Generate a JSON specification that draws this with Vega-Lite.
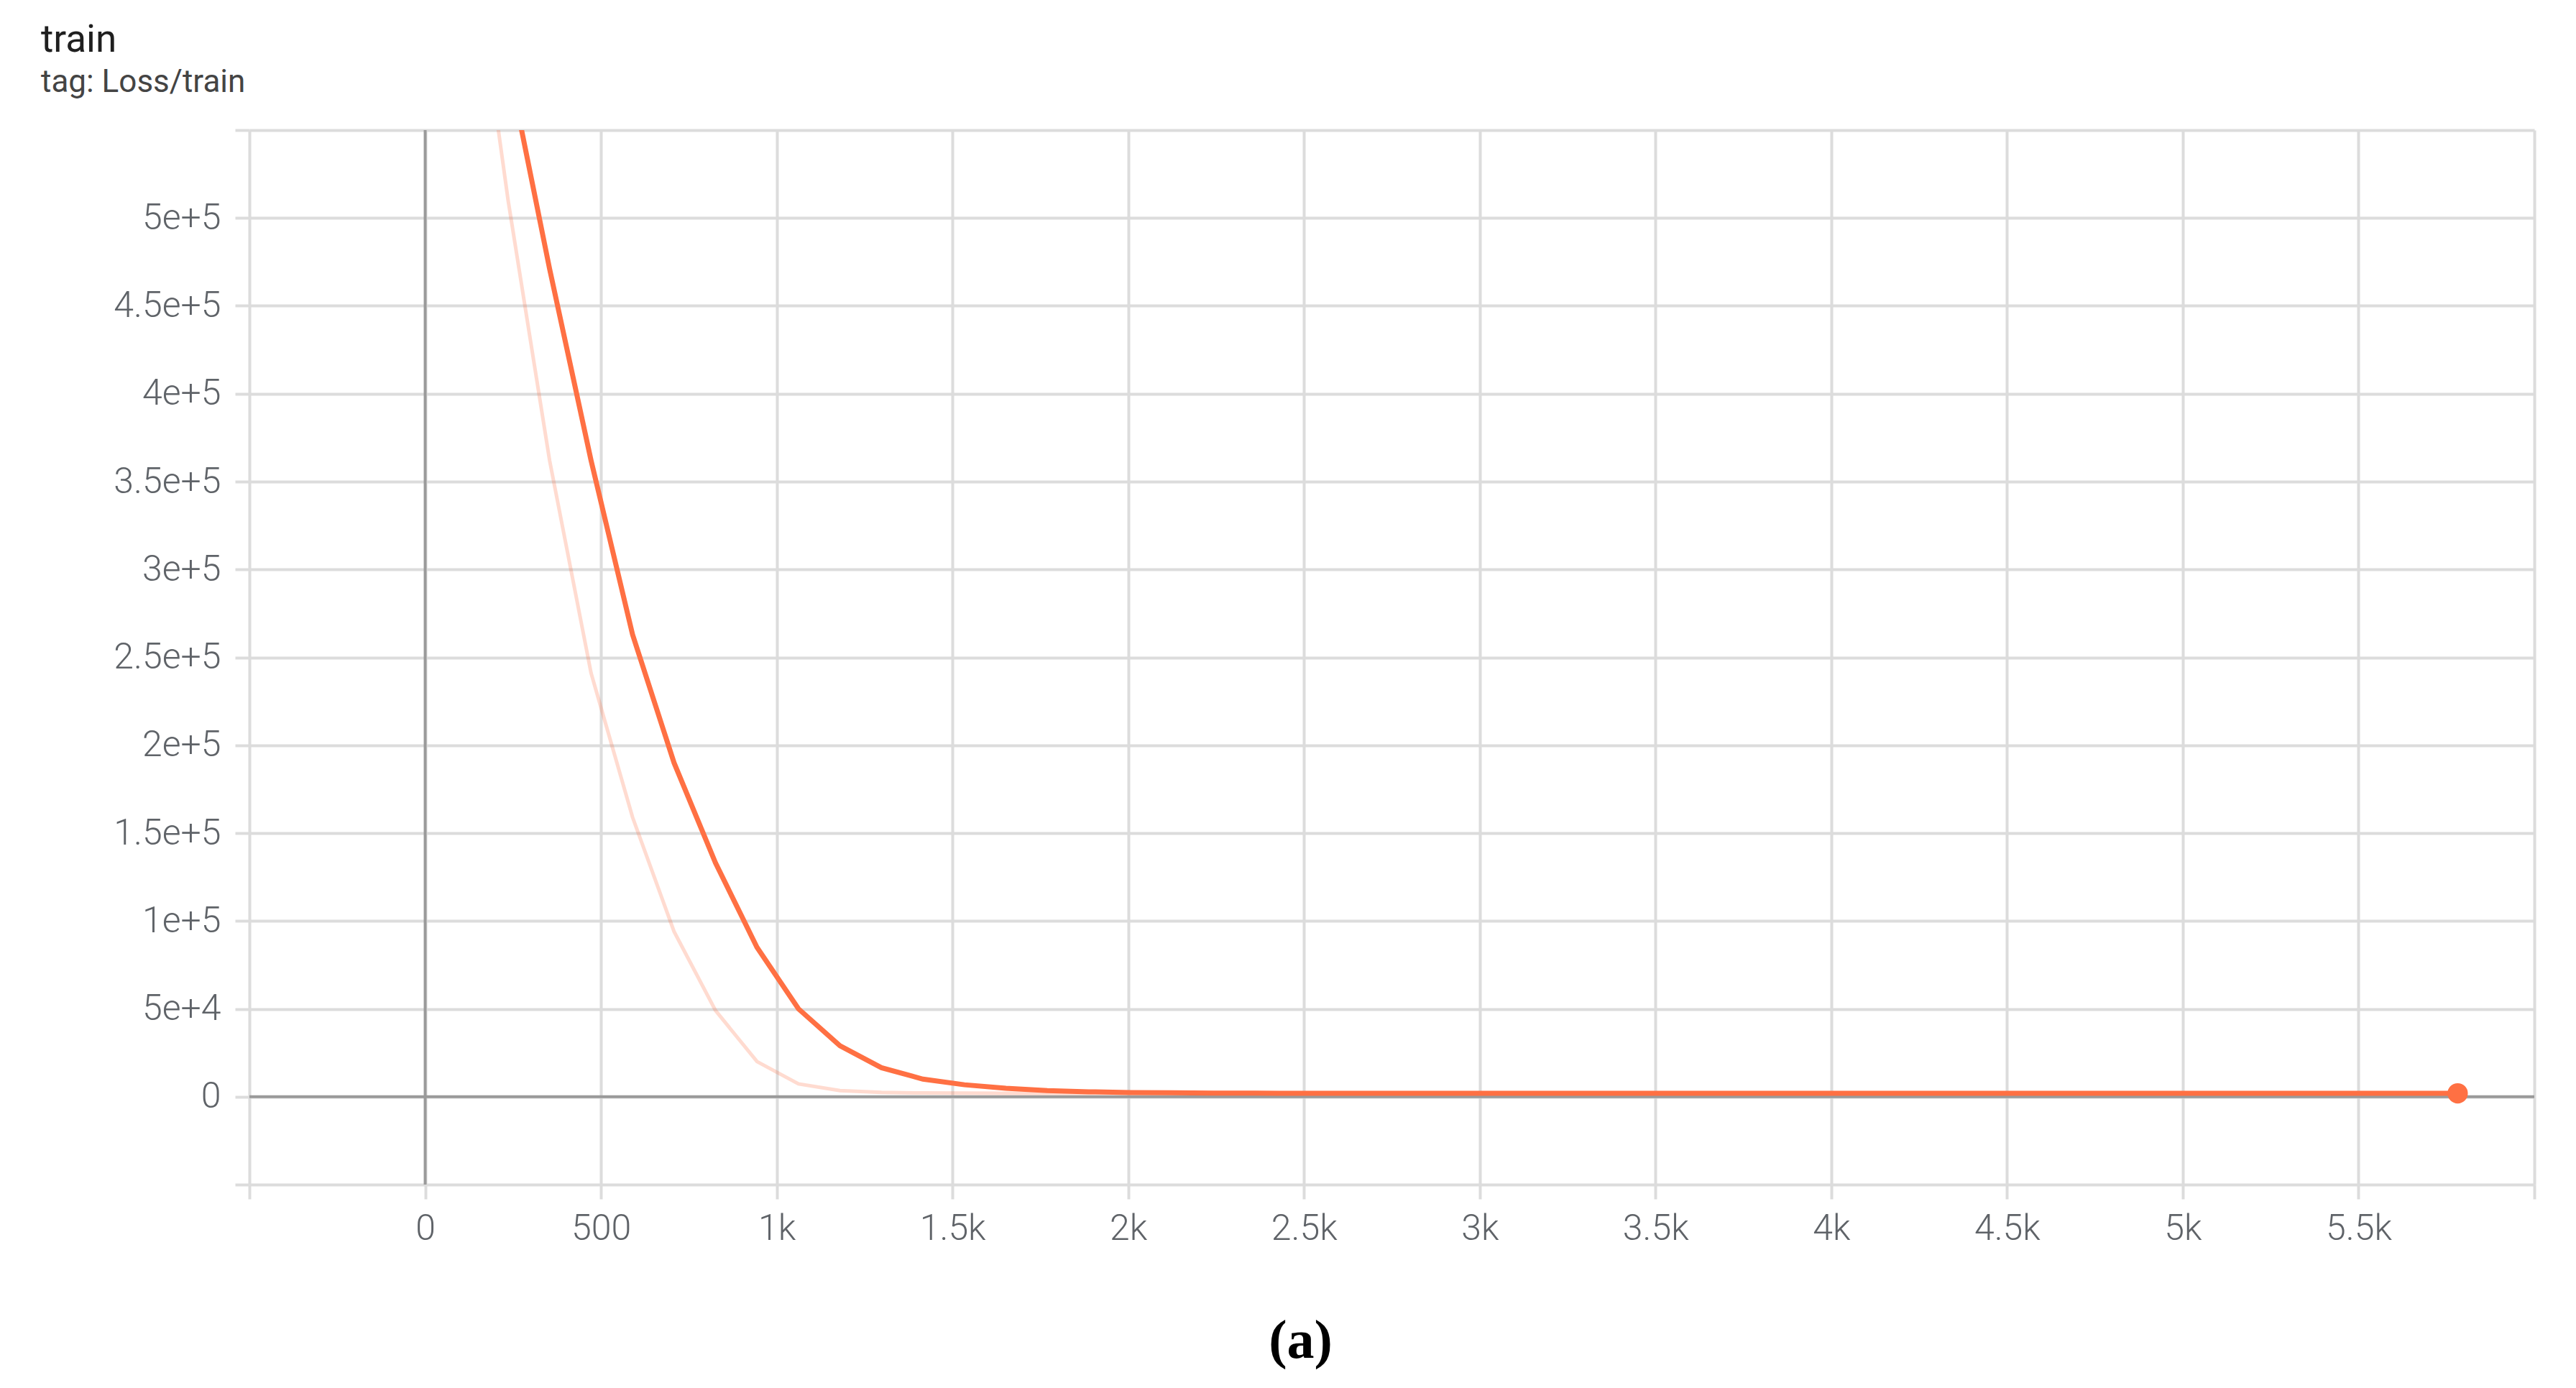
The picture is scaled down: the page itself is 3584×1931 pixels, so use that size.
{
  "$schema": "https://vega.github.io/schema/vega-lite/v6.json",
  "autosize": {"type": "none"},
  "padding": {"left": 347, "top": 181, "right": 58, "bottom": 283},
  "width": 3179,
  "height": 1467,
  "background": "white",
  "title": {
    "text": "train",
    "subtitle": "tag: Loss/train",
    "anchor": "start",
    "frame": "group",
    "dx": -290,
    "offset": 19,
    "baseline": "top",
    "font": "Roboto",
    "fontSize": 53,
    "fontWeight": "normal",
    "color": "#1f1f1f",
    "subtitleFont": "Roboto",
    "subtitleFontSize": 44,
    "subtitleColor": "#444444",
    "subtitlePadding": 10
  },
  "datasets": {
    "raw": [
      {"step": 0, "loss": 900000},
      {"step": 118, "loss": 680000},
      {"step": 236, "loss": 510000},
      {"step": 354, "loss": 362000},
      {"step": 472, "loss": 241000},
      {"step": 590, "loss": 159000},
      {"step": 708, "loss": 94000},
      {"step": 826, "loss": 49000},
      {"step": 944, "loss": 20000},
      {"step": 1062, "loss": 7300},
      {"step": 1180, "loss": 3500},
      {"step": 1298, "loss": 2500},
      {"step": 1416, "loss": 2100},
      {"step": 1534, "loss": 2000},
      {"step": 1652, "loss": 1950},
      {"step": 1770, "loss": 1950},
      {"step": 1888, "loss": 1930},
      {"step": 2006, "loss": 1920},
      {"step": 2124, "loss": 1920},
      {"step": 2242, "loss": 1910},
      {"step": 2360, "loss": 1910},
      {"step": 2478, "loss": 1900},
      {"step": 2596, "loss": 1900},
      {"step": 2714, "loss": 1900},
      {"step": 2832, "loss": 1900},
      {"step": 2950, "loss": 1900},
      {"step": 3068, "loss": 1900},
      {"step": 3186, "loss": 1900},
      {"step": 3304, "loss": 1900},
      {"step": 3422, "loss": 1900},
      {"step": 3540, "loss": 1900},
      {"step": 3658, "loss": 1900},
      {"step": 3776, "loss": 1900},
      {"step": 3894, "loss": 1900},
      {"step": 4012, "loss": 1900},
      {"step": 4130, "loss": 1900},
      {"step": 4248, "loss": 1900},
      {"step": 4366, "loss": 1900},
      {"step": 4484, "loss": 1900},
      {"step": 4602, "loss": 1900},
      {"step": 4720, "loss": 1900},
      {"step": 4838, "loss": 1900},
      {"step": 4956, "loss": 1900},
      {"step": 5074, "loss": 1900},
      {"step": 5192, "loss": 1900},
      {"step": 5310, "loss": 1900},
      {"step": 5428, "loss": 1900},
      {"step": 5546, "loss": 1900},
      {"step": 5664, "loss": 1900},
      {"step": 5782, "loss": 1900}
    ],
    "smoothed": [
      {"step": 0, "loss": 900000},
      {"step": 118, "loss": 720000},
      {"step": 236, "loss": 588000},
      {"step": 354, "loss": 471000},
      {"step": 472, "loss": 362000},
      {"step": 590, "loss": 263000},
      {"step": 708, "loss": 190000},
      {"step": 826, "loss": 133000},
      {"step": 944, "loss": 85000},
      {"step": 1062, "loss": 50000},
      {"step": 1180, "loss": 29000},
      {"step": 1298, "loss": 16500},
      {"step": 1416, "loss": 10000},
      {"step": 1534, "loss": 6800},
      {"step": 1652, "loss": 4800},
      {"step": 1770, "loss": 3500},
      {"step": 1888, "loss": 2800},
      {"step": 2006, "loss": 2400},
      {"step": 2124, "loss": 2200},
      {"step": 2242, "loss": 2050},
      {"step": 2360, "loss": 2000},
      {"step": 2478, "loss": 1980},
      {"step": 2596, "loss": 1960},
      {"step": 2714, "loss": 1950},
      {"step": 2832, "loss": 1950},
      {"step": 2950, "loss": 1940},
      {"step": 3068, "loss": 1940},
      {"step": 3186, "loss": 1930},
      {"step": 3304, "loss": 1930},
      {"step": 3422, "loss": 1930},
      {"step": 3540, "loss": 1920},
      {"step": 3658, "loss": 1920},
      {"step": 3776, "loss": 1920},
      {"step": 3894, "loss": 1920},
      {"step": 4012, "loss": 1910},
      {"step": 4130, "loss": 1910},
      {"step": 4248, "loss": 1910},
      {"step": 4366, "loss": 1910},
      {"step": 4484, "loss": 1910},
      {"step": 4602, "loss": 1900},
      {"step": 4720, "loss": 1900},
      {"step": 4838, "loss": 1900},
      {"step": 4956, "loss": 1900},
      {"step": 5074, "loss": 1900},
      {"step": 5192, "loss": 1900},
      {"step": 5310, "loss": 1900},
      {"step": 5428, "loss": 1900},
      {"step": 5546, "loss": 1900},
      {"step": 5664, "loss": 1900},
      {"step": 5782, "loss": 1900}
    ],
    "last": [
      {"step": 5782, "loss": 1900}
    ]
  },
  "encoding": {
    "x": {
      "field": "step",
      "type": "quantitative",
      "scale": {"domain": [-500, 6000], "nice": false, "zero": false},
      "axis": {
        "values": [-500, 0, 500, 1000, 1500, 2000, 2500, 3000, 3500, 4000, 4500, 5000, 5500, 6000],
        "labelExpr": "datum.value < 0 || datum.value > 5500 ? '' : format(datum.value, '~s')",
        "labelPadding": 16,
        "title": "(a)",
        "titleX": 1462,
        "titleY": 240,
        "titleAlign": "center",
        "titleBaseline": "alphabetic",
        "titleFont": "Liberation Serif",
        "titleFontWeight": "bold",
        "titleFontSize": 76,
        "titleColor": "#000000"
      }
    },
    "y": {
      "field": "loss",
      "type": "quantitative",
      "scale": {"domain": [-50000, 550000], "nice": false, "zero": false},
      "axis": {
        "values": [-50000, 0, 50000, 100000, 150000, 200000, 250000, 300000, 350000, 400000, 450000, 500000, 550000],
        "labelExpr": "datum.value == 0 ? '0' : (datum.value < 0 || datum.value > 500000 ? '' : format(datum.value, '.2~e'))",
        "labelPadding": 20,
        "title": null
      }
    }
  },
  "layer": [
    {
      "data": {"name": "last"},
      "mark": {"type": "rule", "color": "#9a9a9a", "strokeWidth": 4},
      "encoding": {"x": {"datum": 0}, "y": null}
    },
    {
      "data": {"name": "last"},
      "mark": {"type": "rule", "color": "#9a9a9a", "strokeWidth": 4},
      "encoding": {"y": {"datum": 0}, "x": null}
    },
    {
      "data": {"name": "raw"},
      "mark": {"type": "line", "color": "#ff7043", "opacity": 0.25, "strokeWidth": 5, "clip": true}
    },
    {
      "data": {"name": "smoothed"},
      "mark": {"type": "line", "color": "#ff7043", "strokeWidth": 7, "clip": true}
    },
    {
      "data": {"name": "last"},
      "mark": {"type": "point", "filled": true, "color": "#ff7043", "opacity": 1, "size": 800}
    }
  ],
  "config": {
    "view": {"stroke": null},
    "axis": {
      "domain": false,
      "grid": true,
      "gridColor": "#dcdcdc",
      "gridWidth": 4,
      "gridOpacity": 1,
      "ticks": true,
      "tickColor": "#dcdcdc",
      "tickWidth": 4,
      "tickSize": 20,
      "labelFont": "Roboto",
      "labelFontWeight": 300,
      "labelFontSize": 50,
      "labelColor": "#5f6368",
      "labelFlush": false,
      "labelOverlap": false,
      "labelBound": false
    }
  }
}
